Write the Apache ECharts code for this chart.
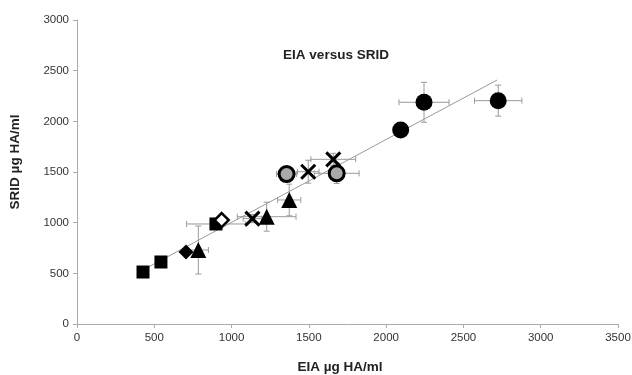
<!DOCTYPE html>
<html>
<head>
<meta charset="utf-8">
<script src="https://cdn.jsdelivr.net/npm/echarts@6/dist/echarts.min.js"></script>
<style>
  html, body { margin: 0; padding: 0; background: #fff; }
  #chart { width: 632px; height: 375px; }
</style>
</head>
<body>
<div id="chart"></div>
<script>
// each point: [EIA, SRID, EIA error, SRID error]
var squares = [[427, 513, 0, 0], [543, 612, 0, 0], [899, 987, 190, 0]];
var diamonds = [[705, 710, 0, 0]];
var openDiamonds = [[936, 1026, 0, 0]];
var triangles = [[785, 730, 65, 237], [1227, 1059, 190, 143], [1373, 1224, 75, 156]];
var crosses = [[1135, 1040, 60, 40], [1496, 1503, 70, 113], [1658, 1625, 145, 60]];
var openCircles = [[1356, 1480, 65, 40], [1680, 1487, 145, 100]];
var circles = [[2094, 1915, 0, 0], [2245, 2188, 162, 197], [2725, 2204, 153, 153]];
var trendLine = [[420, 528], [2718, 2408]];

var allPoints = [].concat(squares, diamonds, openDiamonds, triangles, crosses, openCircles, circles)
    .filter(function (p) { return p[2] > 0 || p[3] > 0; });

var chart = echarts.init(document.getElementById('chart'));

function errorBars(params, api) {
    var x = api.value(0), y = api.value(1), xe = api.value(2), ye = api.value(3);
    var cap = 3;
    var children = [];
    var style = { stroke: '#9a9a9a', lineWidth: 1 };
    if (xe > 0) {
        var l = api.coord([x - xe, y]), r = api.coord([x + xe, y]);
        children.push({ type: 'line', shape: { x1: l[0], y1: l[1], x2: r[0], y2: r[1] }, style: style });
        children.push({ type: 'line', shape: { x1: l[0], y1: l[1] - cap, x2: l[0], y2: l[1] + cap }, style: style });
        children.push({ type: 'line', shape: { x1: r[0], y1: r[1] - cap, x2: r[0], y2: r[1] + cap }, style: style });
    }
    if (ye > 0) {
        var t = api.coord([x, y + ye]), b = api.coord([x, y - ye]);
        children.push({ type: 'line', shape: { x1: t[0], y1: t[1], x2: b[0], y2: b[1] }, style: style });
        children.push({ type: 'line', shape: { x1: t[0] - cap, y1: t[1], x2: t[0] + cap, y2: t[1] }, style: style });
        children.push({ type: 'line', shape: { x1: b[0] - cap, y1: b[1], x2: b[0] + cap, y2: b[1] }, style: style });
    }
    return { type: 'group', children: children };
}

function scatter(data, symbol, size, itemStyle) {
    itemStyle.opacity = 1;
    return {
        type: 'scatter',
        data: data.map(function (p) { return [p[0], p[1]]; }),
        symbol: symbol,
        symbolSize: size,
        itemStyle: itemStyle,
        emphasis: { disabled: true },
        z: 5
    };
}

var labelFont = { fontFamily: 'Liberation Sans', fontSize: 11.5, color: '#333', margin: 8,
    formatter: function (v) { return String(v); } };

var option = {
    animation: false,
    title: {
        text: 'EIA versus SRID',
        left: 331,
        top: 43,
        textAlign: 'center',
        textStyle: { fontFamily: 'Liberation Sans', fontSize: 13.5, fontWeight: 'bold', color: '#222' }
    },
    grid: { left: 77, right: 14, top: 20, bottom: 51, containLabel: false, outerBoundsMode: 'none' },
    xAxis: {
        type: 'value',
        min: 0, max: 3500, interval: 500,
        name: 'EIA µg HA/ml',
        nameLocation: 'middle',
        nameGap: 36,
        nameTextStyle: { fontFamily: 'Liberation Sans', fontSize: 13.5, fontWeight: 'bold', color: '#222',
            padding: [0, 15, 0, 0] },
        axisLine: { lineStyle: { color: '#aaaaaa' } },
        axisTick: { lineStyle: { color: '#aaaaaa' }, length: 4 },
        axisLabel: labelFont,
        splitLine: { show: false }
    },
    yAxis: {
        type: 'value',
        min: 0, max: 3000, interval: 500,
        name: 'SRID µg HA/ml',
        nameLocation: 'middle',
        nameGap: 55,
        nameTextStyle: { fontFamily: 'Liberation Sans', fontSize: 13.5, fontWeight: 'bold', color: '#222',
            padding: [0, 0, 0, 20] },
        axisLine: { show: true, lineStyle: { color: '#aaaaaa' } },
        axisTick: { show: true, lineStyle: { color: '#aaaaaa' }, length: 4 },
        axisLabel: labelFont,
        splitLine: { show: false }
    },
    series: [
        {
            type: 'line',
            data: trendLine,
            symbol: 'none',
            lineStyle: { color: '#999999', width: 1 },
            z: 1
        },
        {
            type: 'custom',
            data: allPoints,
            renderItem: errorBars,
            z: 2
        },
        scatter(squares, 'rect', 13, { color: '#000' }),
        scatter(diamonds, 'diamond', 15, { color: '#000' }),
        scatter(openDiamonds, 'diamond', 14, { color: '#fff', borderColor: '#000', borderWidth: 2.5 }),
        scatter(triangles, 'triangle', 16, { color: '#000' }),
        scatter(crosses, 'path://M0,0L10,10M10,0L0,10', 14, { color: 'none', borderColor: '#000', borderWidth: 3 }),
        scatter(openCircles, 'circle', 15, { color: '#aaaaaa', borderColor: '#000', borderWidth: 3 }),
        scatter(circles, 'circle', 17, { color: '#000' })
    ]
};

chart.setOption(option);
</script>
</body>
</html>
